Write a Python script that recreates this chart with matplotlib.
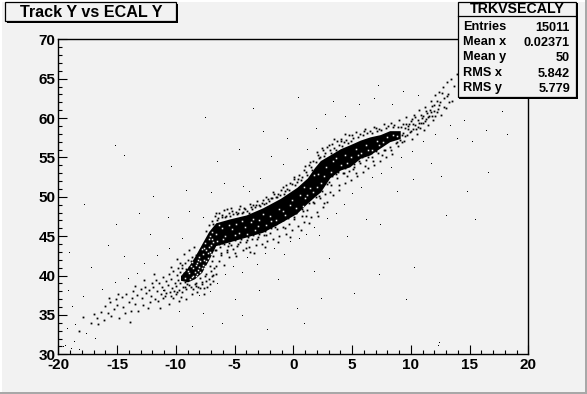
import matplotlib
matplotlib.use('Agg')
from matplotlib import pyplot as plt
from matplotlib.patches import Rectangle

# dense part of the band, read as an envelope
core_x = [-9.6, -9.0, -8.4, -7.8, -7.2, -6.6, -5.4, -4.0, -2.6, -1.1, 0.3, 1.2, 1.8, 2.3, 3.1, 4.0, 4.8, 5.7, 6.5, 7.4, 8.2, 9.1]
core_top = [40.0, 41.0, 42.4, 44.0, 45.6, 46.7, 47.2, 47.7, 48.6, 49.8, 51.2, 52.4, 53.7, 54.6, 55.3, 56.1, 56.6, 57.2, 57.6, 57.9, 58.4, 58.4]
core_bot = [39.4, 39.2, 39.6, 40.4, 42.0, 43.8, 44.3, 44.9, 45.5, 46.7, 47.9, 49.2, 50.0, 50.6, 52.4, 53.4, 53.8, 54.9, 55.3, 56.2, 57.0, 57.4]

# light specks inside the band
gaps = [(-6.6, 45.3), (-6.1, 46.1), (-5.8, 45.0), (-5.2, 45.9), (-4.9, 46.5), (-4.6, 45.4), (-4.1, 46.2), (-3.6, 46.8),
        (-3.3, 45.8), (-2.9, 47.0), (-2.3, 46.4), (-2.0, 47.6), (-1.5, 47.1), (-1.2, 48.4), (-0.7, 47.7), (-0.3, 48.9),
        (0.2, 48.6), (0.6, 50.2), (1.0, 49.8), (1.4, 51.1), (1.7, 50.6), (2.1, 52.9), (2.4, 51.8), (2.8, 53.8),
        (3.2, 53.2), (3.6, 54.9), (4.1, 54.1), (4.4, 55.3), (4.9, 55.0), (5.3, 56.1), (5.8, 55.6), (6.2, 56.6),
        (6.7, 56.0), (7.1, 57.1), (7.6, 56.9), (8.0, 57.6), (-7.1, 45.0), (-5.5, 46.4), (-3.0, 46.3), (0.9, 51.3),
        (-8.9, 40.3), (-8.6, 39.8), (-8.5, 40.9), (-8.2, 40.2), (-8.0, 41.1), (-7.9, 40.5), (-7.7, 41.4), (-7.6, 40.9),
        (-9.2, 39.7), (-8.3, 41.3), (-7.4, 41.8), (-7.3, 42.9), (-7.8, 43.4), (-7.5, 44.1), (-7.2, 43.6), (-6.9, 44.7),
        (-8.1, 42.0), (-6.5, 44.4), (-6.3, 46.4), (-6.0, 44.7), (-4.4, 46.9), (-3.9, 45.3), (-2.6, 47.8), (-1.9, 46.9),
        (-0.9, 48.2), (-0.1, 49.6), (0.8, 48.8), (1.8, 52.8), (2.0, 51.2), (2.6, 52.7), (3.4, 54.5), (4.6, 54.3),
        (5.5, 55.3), (6.4, 55.9), (7.3, 56.6), (8.5, 57.9), (8.8, 57.7), (-5.0, 45.1), (-3.4, 47.2), (1.2, 50.2),
        (-9.0, 40.6), (-8.8, 39.6), (-8.7, 41.2), (-8.4, 40.5), (-8.3, 39.9), (-8.1, 40.7), (-8.0, 42.4), (-7.9, 41.8),
        (-7.8, 40.9), (-7.7, 42.7), (-7.6, 42.0), (-7.5, 41.2), (-7.4, 43.3), (-7.3, 42.2), (-7.2, 44.6), (-7.1, 43.0),
        (-7.0, 43.9), (-6.9, 45.5), (-6.8, 44.2), (-8.6, 41.7), (-8.2, 41.6), (-8.5, 39.9), (-7.6, 43.5), (-7.0, 42.8)]

low_tail = [(-18.2, 33.0), (-17.9, 34.7), (-17.2, 34.0), (-17.0, 35.1), (-16.7, 34.6), (-16.6, 33.8), (-16.4, 35.4), (-16.1, 34.3),
            (-16.0, 36.1), (-15.8, 35.2), (-15.6, 36.7), (-15.5, 34.9), (-15.3, 35.8), (-15.1, 37.0), (-15.0, 36.2), (-14.8, 34.6),
            (-14.6, 37.3), (-14.5, 36.0), (-14.3, 35.3), (-14.2, 37.7), (-14.0, 36.6), (-13.9, 34.1), (-13.7, 37.2), (-13.6, 38.0),
            (-13.5, 36.4), (-13.3, 37.5), (-13.2, 35.5), (-13.0, 38.3), (-12.9, 37.1), (-12.8, 36.2), (-12.6, 38.6), (-12.5, 37.8),
            (-12.4, 35.9), (-12.3, 38.2), (-12.1, 37.4), (-12.0, 39.0), (-11.9, 38.5), (-11.8, 37.0), (-11.7, 39.4), (-11.6, 38.1),
            (-11.5, 36.8), (-11.4, 39.0), (-11.3, 37.7), (-11.2, 38.6), (-11.1, 39.8), (-11.0, 38.2), (-10.9, 37.4), (-10.8, 39.3),
            (-10.7, 38.8), (-10.6, 40.2), (-10.5, 37.9), (-10.4, 39.6), (-10.3, 38.4), (-10.2, 40.6), (-10.1, 39.1), (-10.0, 37.6),
            (-10.0, 38.7), (-9.9, 40.1), (-9.8, 39.4), (-9.8, 41.0), (-9.7, 38.2), (-9.6, 40.5), (-9.6, 39.0), (-9.5, 37.9),
            (-9.5, 41.3), (-9.4, 39.7), (-9.4, 38.6), (-9.3, 40.3), (-9.2, 41.6), (-9.2, 39.2), (-9.1, 38.3), (-9.1, 40.8),
            (-9.0, 42.0), (-8.9, 38.8), (-8.9, 41.1), (-8.7, 41.8), (-8.7, 38.5), (-8.6, 42.4), (-8.4, 38.9), (-8.3, 42.6),
            (-8.3, 39.1), (-8.1, 42.8), (-8.1, 38.6), (-7.9, 43.2), (-7.9, 39.7), (-7.8, 39.2), (-7.6, 38.4), (-7.5, 39.9),
            (-7.2, 39.5), (-7.4, 40.2), (-7.1, 41.2), (-7.0, 40.6), (-6.9, 41.9), (-6.9, 43.4), (-6.8, 40.1), (-6.8, 42.5),
            (-6.7, 43.3), (-6.6, 41.2), (-12.73, 39.4), (-12.18, 36.6), (-11.84, 40.2), (-11.36, 35.9), (-11.07, 37.1), (-10.62, 36.4),
            (-10.44, 41.1), (-10.27, 37.2), (-9.93, 42.1), (-9.76, 36.8), (-9.58, 37.3), (-9.31, 42.7), (-9.12, 37.0), (-8.84, 43.2),
            (-8.66, 37.7), (-8.43, 43.6), (-8.22, 37.9), (-7.98, 38.4), (-7.63, 37.6), (-7.34, 38.6), (-7.11, 38.9), (-6.83, 39.3),
            (-6.57, 40.2), (-6.32, 41.8), (-6.14, 42.6), (-5.91, 41.3), (-5.68, 43.0), (-5.43, 42.4), (-13.81, 35.5), (-13.44, 38.7),
            (-14.93, 37.6), (-15.72, 37.1), (-10.83, 37.8), (-10.37, 37.4), (-10.14, 38.1), (-9.86, 37.9), (-9.67, 41.6), (-9.43, 41.0),
            (-9.22, 38.6), (-9.04, 38.9), (-8.53, 38.3), (-8.27, 38.7), (-7.73, 38.9), (-7.47, 39.3), (-6.94, 40.0), (-6.73, 40.9)]

band_upper = [(-7.4, 45.6), (-7.2, 46.4), (-6.9, 46.9), (-6.7, 47.5), (-6.5, 47.1), (-6.3, 48.0), (-6.1, 47.4), (-5.9, 48.3),
              (-5.7, 47.6), (-5.5, 47.9), (-5.3, 48.6), (-5.1, 47.8), (-4.9, 48.1), (-4.7, 47.9), (-4.5, 48.8), (-4.3, 48.1),
              (-4.1, 48.4), (-3.9, 48.2), (-3.7, 49.1), (-3.5, 48.4), (-3.3, 48.7), (-3.1, 49.5), (-2.9, 49.0), (-2.7, 49.2),
              (-2.5, 49.1), (-2.3, 50.0), (-2.1, 49.5), (-1.9, 49.9), (-1.7, 50.6), (-1.5, 50.0), (-1.3, 50.3), (-1.1, 50.2),
              (-0.9, 51.2), (-0.7, 50.7), (-0.5, 51.0), (-0.3, 51.8), (-0.1, 51.6), (0.1, 52.2), (0.3, 51.9), (0.5, 52.8),
              (0.7, 52.5), (0.9, 53.4), (1.1, 53.1), (1.3, 54.1), (1.5, 53.8), (1.7, 54.6), (1.9, 54.4), (2.1, 55.3),
              (2.3, 55.1), (2.5, 55.9), (2.7, 55.6), (2.9, 56.3), (3.1, 55.9), (3.3, 56.7), (3.5, 56.2), (3.7, 57.1),
              (3.9, 56.6), (4.1, 57.4), (4.3, 57.0), (4.5, 57.2), (4.7, 57.8), (4.9, 57.1), (5.1, 57.5), (5.3, 58.2),
              (5.5, 57.6), (5.7, 58.0), (5.9, 57.8), (6.1, 58.6), (6.3, 58.1), (6.5, 58.3), (6.7, 58.1), (6.9, 58.9),
              (7.1, 58.4), (7.3, 58.6), (7.5, 58.5), (7.7, 59.2), (7.9, 58.8), (8.1, 59.0), (-6.03, 47.7), (-5.24, 48.2),
              (-4.22, 48.6), (-3.16, 48.9), (-2.18, 49.7), (-1.03, 50.9), (0.04, 52.5), (1.02, 53.9), (2.04, 55.7), (3.02, 56.6),
              (4.02, 57.1), (5.02, 57.9), (6.02, 58.3), (7.02, 58.7), (-6.62, 47.9), (-5.64, 48.4), (-4.63, 48.4), (-3.64, 48.7),
              (-2.61, 49.6), (-1.62, 50.3), (-0.62, 51.5), (0.42, 52.3), (1.43, 54.4), (2.41, 56.2), (3.44, 57.4), (4.44, 58.0),
              (-6.83, 46.6), (-6.41, 47.3), (-5.82, 47.4), (-5.36, 47.5), (-4.83, 47.8), (-4.37, 47.9), (-3.81, 48.0), (-3.42, 48.9),
              (-2.83, 48.8), (-2.36, 49.2), (-1.81, 49.8), (-1.36, 50.0), (-0.83, 50.3), (-0.36, 50.9), (0.18, 51.5), (0.62, 52.1),
              (1.18, 52.8), (1.62, 53.4), (2.18, 54.9), (2.62, 55.2), (3.18, 55.6), (3.62, 56.0), (4.18, 56.5), (4.62, 56.8)]

band_lower = [(-6.6, 43.2), (-6.2, 43.6), (-5.9, 44.0), (-5.6, 43.3), (-5.3, 43.9), (-5.0, 42.9), (-4.8, 43.8), (-4.5, 44.3),
              (-4.3, 43.2), (-4.0, 44.2), (-3.8, 43.6), (-3.5, 44.6), (-3.2, 43.9), (-3.0, 44.9), (-2.7, 44.0), (-2.5, 45.1),
              (-2.2, 44.4), (-2.0, 45.4), (-1.7, 44.6), (-1.4, 45.9), (-1.2, 45.0), (-0.9, 46.2), (-0.6, 45.3), (-0.4, 46.6),
              (-0.1, 45.8), (0.1, 47.2), (0.4, 46.3), (0.7, 47.6), (0.9, 46.8), (1.2, 48.3), (1.5, 47.4), (1.8, 49.2),
              (2.0, 48.1), (2.3, 49.8), (2.5, 48.7), (2.7, 50.4), (2.9, 49.4), (3.2, 51.5), (3.4, 50.2), (3.7, 52.4),
              (3.9, 50.9), (4.2, 53.0), (4.4, 51.7), (4.7, 53.3), (4.9, 52.1), (5.2, 53.8), (5.4, 52.6), (5.7, 54.3),
              (5.9, 53.1), (6.2, 54.7), (6.4, 53.6), (6.7, 55.1), (6.9, 54.0), (7.2, 55.6), (7.4, 54.5), (7.7, 55.9),
              (7.9, 55.0), (8.2, 56.3), (8.4, 55.4), (8.7, 56.8), (-6.34, 44.0), (-5.52, 43.8), (-4.71, 44.0), (-3.93, 44.5),
              (-3.12, 44.6), (-2.33, 45.1), (-1.54, 46.2), (-0.73, 46.0), (0.02, 47.4), (0.83, 48.2), (1.64, 49.3), (2.21, 50.1),
              (3.03, 51.9), (3.62, 52.9), (4.31, 53.0), (5.04, 53.5), (5.62, 54.6), (6.33, 55.0), (7.03, 55.8), (7.84, 56.0),
              (-6.12, 42.9), (-5.17, 43.4), (-4.06, 43.5), (-3.36, 42.9), (-2.44, 43.6), (-1.26, 44.3), (-0.24, 44.9), (0.63, 45.8),
              (1.37, 46.7), (2.14, 47.5), (2.64, 49.2), (3.13, 50.6), (3.86, 51.5), (4.58, 52.6), (5.31, 53.0), (6.08, 53.9),
              (6.78, 54.6), (7.56, 55.3), (8.33, 55.9), (8.92, 56.4), (9.24, 56.9), (-4.87, 42.5), (-3.72, 43.0), (1.06, 47.6),
              (-6.05, 44.1), (-5.43, 44.1), (-4.93, 44.5), (-4.43, 44.6), (-3.87, 44.9), (-3.43, 45.1), (-2.88, 45.3), (-2.43, 45.6),
              (-1.88, 46.0), (-1.43, 46.5), (-0.88, 47.0), (-0.43, 47.3), (0.22, 47.9), (0.72, 48.4), (1.32, 49.2), (1.92, 50.0),
              (2.42, 50.8), (2.83, 51.6), (3.33, 52.6), (3.77, 53.2), (4.44, 53.6), (5.15, 54.2), (5.83, 55.0), (6.63, 55.5)]

high_tail = [(8.3, 59.4), (8.5, 58.9), (8.6, 59.1), (8.8, 56.9), (8.9, 58.9), (9.0, 59.7), (9.1, 57.2), (9.2, 58.9),
             (9.3, 59.3), (9.4, 57.1), (9.5, 58.7), (9.6, 60.1), (9.7, 57.8), (9.8, 59.0), (9.9, 58.2), (10.0, 59.6),
             (10.1, 57.4), (10.2, 58.6), (10.3, 60.4), (10.4, 59.1), (10.5, 58.0), (10.6, 59.8), (10.7, 61.0), (10.8, 58.7),
             (10.9, 59.4), (11.0, 60.2), (11.1, 58.5), (11.2, 61.4), (11.3, 59.9), (11.4, 60.6), (11.5, 59.1), (11.6, 61.0),
             (11.7, 62.2), (11.8, 60.3), (11.9, 59.7), (12.0, 61.6), (12.1, 62.9), (12.2, 60.8), (12.3, 61.2), (12.4, 63.3),
             (12.5, 62.0), (12.6, 60.4), (12.7, 64.0), (12.8, 62.6), (13.0, 61.3), (13.1, 64.6), (13.2, 63.1), (13.4, 65.0),
             (13.5, 62.2), (13.7, 64.1), (13.9, 65.6), (14.1, 63.5), (14.3, 66.0), (14.6, 64.6), (14.9, 65.2), (15.2, 66.4),
             (15.5, 63.8), (15.9, 65.6), (9.23, 57.8), (9.52, 57.7), (9.74, 58.6), (10.03, 58.3), (10.22, 59.2), (10.41, 58.6),
             (10.71, 59.4), (10.93, 60.0), (11.24, 59.6), (11.43, 60.1), (11.72, 60.8), (11.94, 60.9), (9.37, 58.1), (9.63, 59.2),
             (9.88, 59.3), (10.14, 59.9), (10.36, 60.1), (10.58, 58.9), (10.84, 60.4), (11.06, 59.4), (11.33, 60.9), (11.55, 60.3),
             (11.82, 61.5), (12.04, 60.3), (12.27, 62.2), (12.43, 61.6), (12.64, 63.2), (12.83, 61.4), (13.07, 62.8), (13.28, 62.0)]

outliers = [(-19.6, 30.9), (-19.4, 31.1), (-18.9, 30.7), (-18.7, 31.5), (-18.2, 30.6), (-17.6, 32.6), (-16.9, 31.9), (-19.3, 33.2),
            (-18.6, 33.7), (-18.8, 36.0), (-17.9, 37.3), (-19.2, 38.0), (-16.3, 38.2), (-15.2, 39.0), (-14.1, 39.6), (-13.3, 40.2),
            (-17.2, 41.0), (-19.1, 42.9), (-15.8, 43.7), (-14.4, 42.3), (-12.7, 41.5), (-11.6, 42.5), (-10.6, 43.4), (-9.5, 44.6),
            (-12.2, 45.2), (-15.1, 46.4), (-13.1, 47.8), (-10.7, 47.3), (-8.9, 48.1), (-7.7, 47.3), (-17.8, 48.9), (-11.9, 50.0),
            (-9.1, 50.7), (-7.0, 50.5), (-5.9, 51.6), (-4.3, 51.2), (-2.8, 52.2), (-3.8, 50.6), (-14.4, 55.2), (-15.2, 56.5),
            (-10.4, 53.8), (-6.5, 54.4), (-1.9, 55.0), (-0.9, 54.0), (-4.6, 56.0), (-2.6, 58.2), (-0.5, 57.3), (1.2, 56.0),
            (1.9, 58.6), (2.7, 60.4), (4.4, 60.1), (5.6, 61.7), (6.9, 62.4), (8.4, 61.7), (7.2, 64.1), (9.3, 63.3),
            (10.6, 62.8), (-7.5, 60.0), (-3.4, 61.2), (0.4, 62.5), (3.4, 62.1), (-11.1, 38.0), (-8.0, 37.4), (-7.1, 37.9),
            (-6.5, 38.9), (-5.8, 40.1), (-5.1, 41.1), (-4.4, 40.3), (-3.9, 42.2), (-3.1, 41.4), (-2.4, 42.7), (-1.6, 43.4),
            (-0.8, 42.6), (-0.3, 44.3), (0.5, 44.6), (1.1, 45.1), (1.8, 46.0), (2.2, 45.0), (2.9, 47.2), (3.6, 47.8),
            (4.3, 49.0), (5.0, 50.3), (5.8, 51.1), (6.7, 52.4), (7.5, 52.9), (8.3, 53.7), (9.2, 54.9), (10.1, 55.7),
            (11.0, 57.0), (12.1, 57.9), (13.3, 59.0), (14.5, 59.6), (13.9, 57.4), (15.2, 57.0), (16.4, 58.4), (17.8, 60.8),
            (-9.7, 35.4), (-8.6, 33.5), (-7.7, 35.1), (-5.0, 36.9), (-2.9, 38.0), (-1.3, 39.4), (0.3, 35.7), (0.9, 33.9),
            (1.8, 40.4), (3.0, 42.1), (4.6, 44.9), (6.2, 47.0), (7.4, 46.4), (8.8, 50.6), (10.2, 52.1), (11.7, 54.2),
            (12.3, 31.0), (12.4, 31.4), (9.6, 36.9), (10.3, 40.9), (7.3, 40.1), (5.2, 37.6), (14.8, 50.6), (16.6, 53.0),
            (13.0, 47.5), (15.5, 47.1), (18.2, 57.9), (12.6, 52.5), (-6.1, 33.9), (-4.4, 34.9), (-2.2, 33.1), (2.4, 37.0)]

xticks = [-20, -15, -10, -5, 0, 5, 10, 15, 20]
yticks = [30, 35, 40, 45, 50, 55, 60, 65, 70]
title_text = 'Track Y vs ECAL Y'
stats_name = 'TRKVSECALY'
stats_labels = ['Entries', 'Mean x', 'Mean y', 'RMS x', 'RMS y']
stats_values = ['15011', '0.02371', '50', '5.842', '5.779']

BG = '#f2f2f2'
plt.rcParams['font.family'] = ['Liberation Sans', 'DejaVu Sans']
plt.rcParams['font.weight'] = 'bold'
plt.rcParams['axes.unicode_minus'] = False

fig = plt.figure(figsize=(5.87, 3.94), dpi=100, facecolor=BG)
ax = fig.add_axes([58.3 / 587, 1 - 354.3 / 394, 470 / 587, 315 / 394], facecolor=BG)

ax.fill_between(core_x, core_bot, core_top, color='black', linewidth=0)
# the points next to the band are heavier so the fringe reads as dense
for pts in [low_tail, band_upper, band_lower, high_tail]:
    ax.plot([p[0] for p in pts], [p[1] for p in pts], 's', color='black', ms=1.3, mew=0, antialiased=False)
ax.plot([p[0] for p in outliers], [p[1] for p in outliers], ',', color='black')
ax.plot([p[0] for p in gaps], [p[1] for p in gaps], 's', color=BG, ms=1.1, mew=0, antialiased=False)

ax.set_xlim(-20, 20)
ax.set_ylim(30, 70)
ax.set_xticks(xticks)
ax.set_yticks(yticks)
ax.set_xticks(range(-20, 21), minor=True)
ax.set_yticks(range(30, 71), minor=True)
ax.tick_params(which='major', direction='in', length=6.5, width=0.8, labelsize=11, pad=2)
ax.tick_params(which='minor', direction='in', length=3.2, width=0.8)
ax.tick_params(axis='x', which='major', pad=3)
for s in ax.spines.values():
    s.set_linewidth(1.0)

# pad decorations are placed in pixels on an overlay
ov = fig.add_axes([0, 0, 1, 1], zorder=5)
ov.set_xlim(0, 587)
ov.set_ylim(394, 0)
ov.axis('off')
ov.add_patch(Rectangle((0, 0), 587, 1.5, color='white', lw=0))
ov.add_patch(Rectangle((0, 0), 1.5, 394, color='white', lw=0))
ov.add_patch(Rectangle((0, 392), 587, 2, color='#a8a8a8', lw=0))
ov.add_patch(Rectangle((585, 0), 2, 394, color='#a8a8a8', lw=0))

ov.add_patch(Rectangle((7, 4), 171, 19, color='black', lw=0))
ov.add_patch(Rectangle((5, 2), 171, 19, fc=BG, ec='black', lw=0.9))
ov.text(91, 12, title_text, ha='center', va='center', fontsize=11.6)

ov.add_patch(Rectangle((459, 3), 119, 96, color='black', lw=0))
ov.add_patch(Rectangle((457.5, 1.5), 118.5, 95.5, fc=BG, ec='black', lw=0.9))
ov.plot([457.5, 576], [15.5, 15.5], color='black', lw=0.9)
ov.text(517, 9, stats_name, ha='center', va='center', fontsize=10.2)
for i in range(len(stats_labels)):
    yy = 26.5 + i * 15.4
    ov.text(463, yy, stats_labels[i], ha='left', va='center', fontsize=9.2)
    ov.text(570, yy + 1, stats_values[i], ha='right', va='center', fontsize=9.2)

fig.savefig('out.png', dpi=100, facecolor=BG)
